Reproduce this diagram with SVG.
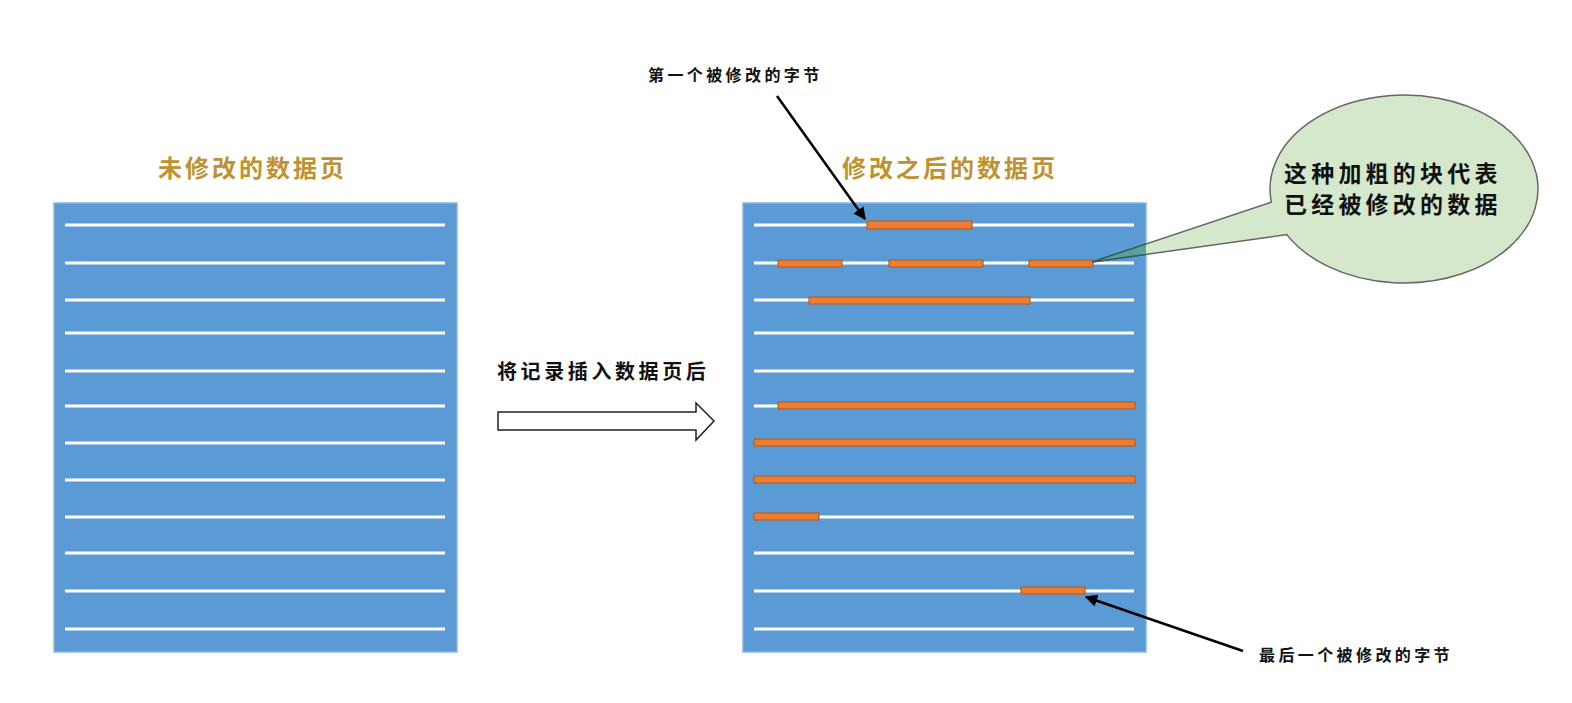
<svg xmlns="http://www.w3.org/2000/svg" width="1572" height="703" viewBox="0 0 1572 703">
<style>
.page{fill:#5B9BD5;stroke:#8FB3D9;stroke-width:1.5}
.ln{stroke:#FFFFFF;stroke-width:3}
.bar{fill:#ED7D31;stroke:#B0602A;stroke-width:1.2}
.title{font-family:"Noto Sans CJK SC","Noto Sans",sans-serif;font-weight:700;font-size:24px;fill:#C0912F;letter-spacing:3px}
.lbl{font-family:"Noto Sans CJK SC","Noto Sans",sans-serif;font-weight:700;fill:#111111}
.pt{stroke:#000;stroke-width:2.5;fill:none}
</style>
<defs>
<marker id="ah" viewBox="0 0 10 10" refX="9" refY="5" markerWidth="5" markerHeight="5" orient="auto">
<path d="M0,0 L10,5 L0,10 Z" fill="#000"/>
</marker>
<clipPath id="rc"><rect x="743" y="203" width="403" height="449"/></clipPath>
</defs>
<rect width="1572" height="703" fill="#FFFFFF"/>

<g id="page-left">
<text class="title" x="158" y="177">未修改的数据页</text>
<rect class="page" x="54" y="203" width="403" height="449"/>
<g class="ln">
<line x1="65" y1="225" x2="445" y2="225"/>
<line x1="65" y1="263" x2="445" y2="263"/>
<line x1="65" y1="300" x2="445" y2="300"/>
<line x1="65" y1="333" x2="445" y2="333"/>
<line x1="65" y1="371" x2="445" y2="371"/>
<line x1="65" y1="406" x2="445" y2="406"/>
<line x1="65" y1="443" x2="445" y2="443"/>
<line x1="65" y1="480" x2="445" y2="480"/>
<line x1="65" y1="517" x2="445" y2="517"/>
<line x1="65" y1="553" x2="445" y2="553"/>
<line x1="65" y1="591" x2="445" y2="591"/>
<line x1="65" y1="629" x2="445" y2="629"/>
</g>
</g>

<g id="page-right">
<text class="title" x="842" y="177">修改之后的数据页</text>
<rect class="page" x="743" y="203" width="403" height="449"/>
<g class="ln">
<line x1="754" y1="225" x2="1134" y2="225"/>
<line x1="754" y1="263" x2="1134" y2="263"/>
<line x1="754" y1="300" x2="1134" y2="300"/>
<line x1="754" y1="333" x2="1134" y2="333"/>
<line x1="754" y1="371" x2="1134" y2="371"/>
<line x1="754" y1="406" x2="1134" y2="406"/>
<line x1="754" y1="443" x2="1134" y2="443"/>
<line x1="754" y1="480" x2="1134" y2="480"/>
<line x1="754" y1="517" x2="1134" y2="517"/>
<line x1="754" y1="553" x2="1134" y2="553"/>
<line x1="754" y1="591" x2="1134" y2="591"/>
<line x1="754" y1="629" x2="1134" y2="629"/>
</g>
<g>
<rect class="bar" x="867" y="221" width="105" height="8"/>
<rect class="bar" x="778" y="260" width="64" height="7"/>
<rect class="bar" x="889" y="260" width="94" height="7"/>
<rect class="bar" x="1029" y="260" width="64" height="7"/>
<rect class="bar" x="809" y="297" width="221" height="7"/>
<rect class="bar" x="778" y="402" width="357" height="7"/>
<rect class="bar" x="754" y="439" width="381" height="7"/>
<rect class="bar" x="754" y="476" width="381" height="7"/>
<rect class="bar" x="754" y="513" width="65" height="7"/>
<rect class="bar" x="1021" y="587" width="64" height="7"/>
</g>
</g>

<g id="insert-arrow">
<text class="lbl" x="497" y="379" font-size="20" letter-spacing="3.6">将记录插入数据页后</text>
<path d="M498,412 L696,412 L696,403 L714,421 L696,440 L696,430 L498,430 Z" fill="#FFFFFF" stroke="#222" stroke-width="1.5"/>
</g>

<g id="callout">
<path d="M1271.3,202.1 A134 94 0 1 1 1286.8,234.6 L1092,262 Z" fill="#D5E8CB" stroke="#666" stroke-width="1.5"/>
<path d="M1271.3,202.1 A134 94 0 1 1 1286.8,234.6 L1092,262 Z" fill="#5E9E9C" stroke="#2F5F5F" stroke-width="1.5" clip-path="url(#rc)"/>
<text class="lbl" x="1284" y="182" font-size="23" letter-spacing="4.2">这种加粗的块代表</text>
<text class="lbl" x="1284" y="213" font-size="23" letter-spacing="4.2">已经被修改的数据</text>
</g>

<g id="label-first">
<text class="lbl" x="648" y="81" font-size="16" letter-spacing="3.4">第一个被修改的字节</text>
</g>
<g id="label-last">
<text class="lbl" x="1259" y="661" font-size="16" letter-spacing="3.4">最后一个被修改的字节</text>
</g>

<g id="connectors">
<line class="pt" x1="777" y1="96" x2="865" y2="219" marker-end="url(#ah)"/>
<line class="pt" x1="1243" y1="651" x2="1086" y2="597" marker-end="url(#ah)"/>
</g>
</svg>
